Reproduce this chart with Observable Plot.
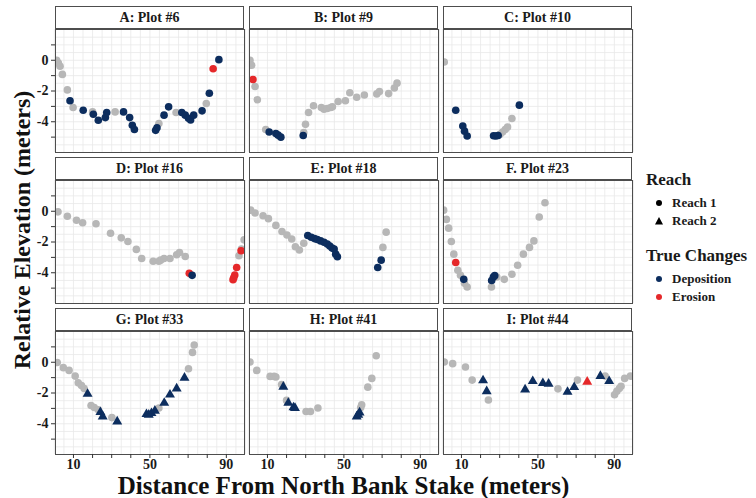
<!DOCTYPE html>
<html><head><meta charset="utf-8">
<script src="https://cdn.jsdelivr.net/npm/d3@7"></script>
<script src="https://cdn.jsdelivr.net/npm/@observablehq/plot@0.6"></script>
<style>
body{margin:0;background:#fff;}
#root{position:relative;width:756px;height:498px;font-family:"Liberation Serif","Times New Roman",serif;color:#111;overflow:hidden;}
.strip{position:absolute;box-sizing:border-box;border:1px solid #4d4d4d;background:#fff;font-weight:bold;font-size:14px;display:flex;align-items:center;justify-content:center;color:#1a1a1a;}
.panel{position:absolute;}
.xtitle{position:absolute;left:55px;width:577px;top:475px;height:22px;line-height:22px;text-align:center;font-weight:bold;font-size:25px;white-space:nowrap;}
.ytitle{position:absolute;left:22px;top:230px;line-height:22px;transform:translate(-50%,-50%) rotate(-90deg);font-weight:bold;font-size:24px;white-space:nowrap;}
.legend{position:absolute;left:646px;top:170px;font-weight:bold;color:#1a1a1a;}
.legend .t{font-size:17px;margin-bottom:4px;}
.legend .it{display:flex;align-items:center;font-size:13px;height:18px;}
.legend .it svg{width:26px;height:14px;}
</style></head><body><div id="root"></div>
<script>
// ---- data ----
const panelTitles = ["A: Plot #6","B: Plot #9","C: Plot #10","D: Plot #16","E: Plot #18","F. Plot #23","G: Plot #33","H: Plot #41","I: Plot #44"];
const panelReach  = ["Reach 1","Reach 1","Reach 1","Reach 1","Reach 1","Reach 1","Reach 2","Reach 2","Reach 2"];

const A_dist = [1.2,2.1,3.0,4.2,6.8,8.2,9.8,15.1,20.0,20.4,23.0,26.7,27.4,31.8,36.2,39.4,40.8,41.9,53.0,53.7,54.7,57.4,59.8,63.7,66.7,68.5,70.2,71.3,72.9,77.3,79.5,81.1,83.1,86.1];
const A_elev = [0,-0.18,-0.39,-0.92,-1.93,-2.63,-3.07,-3.25,-3.36,-3.51,-3.9,-3.73,-3.4,-3.36,-3.36,-3.73,-4.23,-4.5,-4.56,-4.39,-4.12,-3.57,-3.03,-3.4,-3.4,-3.57,-3.77,-3.88,-3.57,-3.29,-2.81,-2.15,-0.55,0.04];
const A_chg  = ["N","N","N","N","N","D","N","D","N","D","D","D","D","N","D","D","D","D","D","D","N","D","D","N","D","D","D","D","D","D","N","D","E","D"];

const B_dist = [0.85,1.7,2.4,3.5,4.7,9.1,10.9,14.4,15.6,17.0,28.7,29.0,29.9,31.5,34.1,38.2,39.6,41.3,43.1,44.0,47.0,50.8,53.1,56.7,60.7,67.2,68.6,73.4,76.4,77.8];
const B_elev = [0,-0.33,-1.25,-1.71,-2.57,-4.5,-4.67,-4.76,-4.87,-5.0,-4.89,-4.71,-4.17,-3.4,-2.96,-3.07,-3.18,-3.14,-3.07,-3.03,-2.68,-2.63,-2.11,-2.41,-2.26,-2.19,-2.04,-2.17,-1.8,-1.49];
const B_chg  = ["N","N","E","N","N","N","D","D","D","D","D","N","N","N","N","N","N","N","N","N","N","N","N","N","N","N","N","N","N","N"];

const C_dist = [1.0,7.0,10.7,11.6,13.0,26.8,28.0,29.2,30.2,31.5,32.9,34.1,36.4,40.3];
const C_elev = [-0.11,-3.25,-4.28,-4.61,-4.93,-4.91,-4.93,-4.89,-4.82,-4.67,-4.5,-4.34,-3.79,-2.92];
const C_chg  = ["N","D","D","D","D","D","D","D","N","N","N","N","N","D"];

const D_dist = [1.9,6.8,11.6,14.8,21.8,29.4,35.0,38.5,42.9,45.7,51.7,54.7,55.6,57.4,60.5,64.0,65.5,68.5,70.6,72.1,93.5,93.9,94.4,95.4,96.6,97.7,97.9,99.3];
const D_elev = [-0.04,-0.33,-0.59,-0.75,-0.81,-1.43,-1.73,-1.97,-2.48,-3.07,-3.25,-3.25,-3.18,-3.07,-3.07,-2.83,-2.68,-2.94,-4.04,-4.17,-4.45,-4.32,-4.15,-3.66,-2.89,-2.57,-2.46,-1.86];
const D_chg  = ["N","N","N","N","N","N","N","N","N","N","N","N","N","N","N","N","N","N","E","D","E","E","E","E","N","E","N","N"];

const E_dist = [1.2,3.5,7.7,10.5,14.4,17.6,20.2,22.7,24.6,26.7,29.0,31.1,32.9,34.6,36.1,37.8,39.6,41.3,42.6,43.8,44.9,45.7,46.6,67.7,69.5,70.4,72.1];
const E_elev = [0.07,-0.11,-0.29,-0.48,-0.92,-1.32,-1.54,-1.8,-2.31,-2.52,-2.08,-1.58,-1.69,-1.78,-1.84,-1.93,-2.02,-2.13,-2.26,-2.39,-2.46,-2.79,-2.96,-3.66,-3.18,-2.35,-1.36];
const E_chg  = ["N","N","N","N","N","N","N","N","N","N","N","D","D","D","D","D","D","D","D","D","D","D","D","D","D","N","N"];

const F_dist = [0.67,2.1,3.3,4.7,6.0,7.0,8.1,9.5,11.2,11.6,13.0,25.7,25.8,26.7,27.4,28.5,32.4,36.4,39.4,42.4,45.6,47.9,50.7,53.7];
const F_elev = [0.07,-0.53,-1.1,-1.97,-2.79,-3.33,-3.84,-4.17,-4.43,-4.69,-4.93,-4.93,-4.5,-4.28,-4.19,-4.28,-4.43,-4.1,-3.51,-2.79,-2.35,-1.93,-0.37,0.55];
const F_chg  = ["N","N","N","N","N","E","N","N","D","N","N","N","D","D","D","N","N","N","N","N","N","N","N","N"];

const G_dist = [1.5,4.7,7.7,10.9,12.5,14.2,15.6,17.4,19.2,20.9,23.0,24.1,25.3,30.1,32.9,48.2,49.4,50.8,52.6,54.7,57.5,60.5,64.0,68.1,70.2,72.3,73.2];
const G_elev = [-0.02,-0.35,-0.53,-0.9,-1.34,-1.51,-1.71,-2.06,-2.81,-2.94,-3.09,-3.25,-3.53,-3.6,-3.86,-3.38,-3.42,-3.31,-3.16,-2.98,-2.65,-2.11,-1.71,-1.01,-0.42,0.64,1.12];
const G_chg  = ["N","N","N","N","N","N","N","D","N","N","N","D","D","N","D","D","D","D","D","N","D","D","D","D","N","N","N"];

const H_dist = [0.85,4.4,11.4,13.5,14.4,17.4,18.3,20.0,20.9,23.6,24.4,30.2,32.5,36.4,56.7,57.5,58.2,58.8,59.3,62.5,64.6,66.9];
const H_elev = [0.02,-0.53,-0.92,-0.92,-0.96,-1.45,-1.6,-2.48,-2.65,-2.94,-2.98,-3.2,-3.2,-2.98,-3.53,-3.42,-3.27,-2.94,-2.76,-1.62,-1.05,0.42];
const H_chg  = ["N","N","N","N","N","N","D","N","D","D","D","N","N","N","D","D","D","N","N","N","N","N"];

const I_dist = [1.0,5.4,12.1,15.6,21.3,23.2,24.1,43.3,47.3,52.6,55.6,60.5,65.5,69.0,70.7,75.8,82.7,85.2,87.3,90.1,91.3,92.6,93.5,95.4,98.4];
const I_elev = [0.02,-0.09,-0.31,-1.16,-1.18,-1.89,-2.46,-1.78,-1.23,-1.36,-1.4,-1.73,-1.93,-1.62,-1.16,-1.27,-0.9,-0.9,-1.23,-2.11,-1.89,-1.71,-1.56,-1.05,-0.9];
const I_chg  = ["N","N","N","N","D","D","N","D","D","D","D","N","D","D","N","E","D","N","D","N","N","N","N","N","N"];

const xDomain = [0.6, 99.5];
const yDomain = [-6, 2];
const xTickMarks = [10,20,30,40,50,60,70,80,90];
const xTickLabels = [10,50,90];
const yTickMarks = [1,0,-1,-2,-3,-4,-5];
const yTickLabels = [0,-2,-4];
const xGrid = d3.range(0, 101, 5);
const yGrid = d3.range(-6, 2.01, 0.5);

const changeNames = {D: "Deposition", E: "Erosion"};
const changeColors = {Deposition: "#0c2d5e", Erosion: "#e5282a"};
const noChangeColor = "#b7b7b7";

const panelData = [
  [A_dist,A_elev,A_chg],[B_dist,B_elev,B_chg],[C_dist,C_elev,C_chg],
  [D_dist,D_elev,D_chg],[E_dist,E_elev,E_chg],[F_dist,F_elev,F_chg],
  [G_dist,G_elev,G_chg],[H_dist,H_elev,H_chg],[I_dist,I_elev,I_chg]
];

// ---- layout ----
const colLeft = [55, 249, 443];
const colW = 189;
const stripTop = [6, 157, 308];
const stripH = 23;
const plotH = 123;
const FONT = '"Liberation Serif","Times New Roman",serif';

const root = document.getElementById("root");

panelData.forEach(([xs, ys, cs], i) => {
  const r = Math.floor(i / 3), c = i % 3;
  const rows = xs.map((x, k) => ({dist: x, elev: ys[k], change: changeNames[cs[k]] || null, reach: panelReach[i]}));
  const gray = rows.filter(d => !d.change);
  const colored = rows.filter(d => d.change);
  const isLeft = c === 0, isBottom = r === 2;
  const ml = isLeft ? 40 : 0, mb = isBottom ? 22 : 0;

  const strip = document.createElement("div");
  strip.className = "strip";
  strip.style.left = colLeft[c] + "px";
  strip.style.top = stripTop[r] + "px";
  strip.style.width = colW + "px";
  strip.style.height = stripH + "px";
  strip.textContent = panelTitles[i];
  root.appendChild(strip);

  const sym = panelReach[i] === "Reach 2" ? "triangle" : "circle";
  const chart = Plot.plot({
    width: colW + ml,
    height: plotH + mb,
    marginLeft: ml, marginRight: 0, marginTop: 0, marginBottom: mb,
    x: {domain: xDomain, axis: null},
    y: {domain: yDomain, axis: null},
    color: {domain: Object.keys(changeColors), range: Object.values(changeColors)},
    style: {fontFamily: FONT, fontSize: "14px", fontWeight: "bold", color: "#1a1a1a", background: "transparent", overflow: "visible"},
    marks: [
      Plot.gridX(xGrid, {stroke: "#e9e9e9", strokeOpacity: 1, strokeWidth: 0.8}),
      Plot.gridY(yGrid, {stroke: "#e9e9e9", strokeOpacity: 1, strokeWidth: 0.8}),
      Plot.dot(gray, {x: "dist", y: "elev", r: 3.8, fill: noChangeColor, stroke: "none", clip: true}),
      Plot.dot(colored, {x: "dist", y: "elev", r: sym === "triangle" ? 3.7 : 3.8, symbol: () => sym, fill: "change", stroke: "none", clip: true}),
      Plot.frame({stroke: "#4d4d4d", strokeWidth: 1}),
      isLeft ? Plot.axisY(yTickMarks, {tickSize: 4, tickPadding: 3, tickFormat: d => yTickLabels.includes(d) ? String(d) : "", label: null, stroke: "#333"}) : null,
      isBottom ? Plot.axisX(xTickMarks, {tickSize: 4, tickPadding: 1, tickFormat: d => xTickLabels.includes(d) ? String(d) : "", label: null, stroke: "#333"}) : null
    ]
  });
  chart.classList.add("panel");
  chart.style.left = (colLeft[c] - ml) + "px";
  chart.style.top = (stripTop[r] + stripH) + "px";
  root.appendChild(chart);
});

const xt = document.createElement("div");
xt.className = "xtitle";
xt.textContent = "Distance From North Bank Stake (meters)";
root.appendChild(xt);

const yt = document.createElement("div");
yt.className = "ytitle";
yt.textContent = "Relative Elevation (meters)";
root.appendChild(yt);

// legend
const legend = document.createElement("div");
legend.className = "legend";
const tri = '<svg viewBox="0 0 26 14"><path d="M13,3 L17,10.5 L9,10.5 Z" fill="#000"/></svg>';
const circ = (col) => `<svg viewBox="0 0 26 14"><circle cx="13" cy="7" r="3" fill="${col}"/></svg>`;
legend.innerHTML =
  '<div class="t">Reach</div>' +
  `<div class="it">${circ("#000")}<span>Reach 1</span></div>` +
  `<div class="it">${tri}<span>Reach 2</span></div>` +
  '<div class="t" style="margin-top:16px">True Changes</div>' +
  `<div class="it">${circ(changeColors.Deposition)}<span>Deposition</span></div>` +
  `<div class="it">${circ(changeColors.Erosion)}<span>Erosion</span></div>`;
root.appendChild(legend);
</script>
</body></html>
